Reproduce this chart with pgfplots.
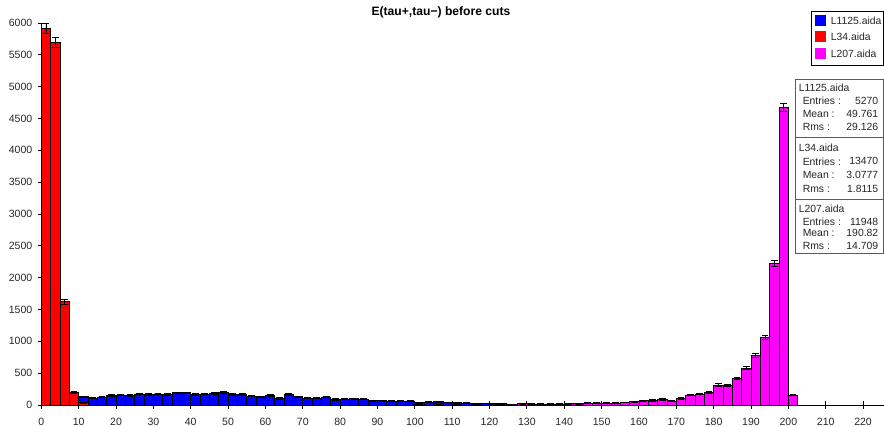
\documentclass[border=0pt]{standalone}
\usepackage{pgfplots}
\pgfplotsset{compat=1.18}
\usepackage{pgfplotstable}
\usepackage{fontspec}
\setmainfont{Liberation Sans}
\setsansfont{Liberation Sans}

\definecolor{hblue}{RGB}{0,0,255}
\definecolor{hred}{RGB}{255,0,0}
\definecolor{hmag}{RGB}{255,0,255}
\definecolor{boxgray}{RGB}{90,90,90}

% L1125.aida (bin centres, bin width 2.5)
\pgfplotstableread{
x y
11.25 131
13.75 110
16.25 126
18.75 150
21.25 158
23.75 148
26.25 173
28.75 165
31.25 175
33.75 168
36.25 192
38.75 192
41.25 168
43.75 173
46.25 183
48.75 199
51.25 167
53.75 162
56.25 141
58.75 131
61.25 147
63.75 105
66.25 162
68.75 131
71.25 110
73.75 110
76.25 126
78.75 89
81.25 96
83.75 99
86.25 94
88.75 70
91.25 68
93.75 63
96.25 58
98.75 63
101.25 37
103.75 47
106.25 52
108.75 42
111.25 37
113.75 31
116.25 26
118.75 26
121.25 21
123.75 18
126.25 10
128.75 20
131.25 16
133.75 15
136.25 13
138.75 12
141.25 10
143.75 9
146.25 8
148.75 6
151.25 5
153.75 4
156.25 3
158.75 3
161.25 2
163.75 1
}\bluedata

% L34.aida
\pgfplotstableread{
x y
1.25 5916
3.75 5696
6.25 1624
8.75 204
11.25 37
}\reddata

% L207.aida
\pgfplotstableread{
x y
101.25 2
106.25 3
111.25 4
116.25 5
121.25 6
123.75 7
126.25 8
128.75 20
131.25 15
133.75 18
136.25 16
138.75 18
141.25 20
143.75 22
146.25 30
148.75 30
151.25 31
153.75 33
156.25 42
158.75 52
161.25 68
163.75 73
166.25 89
168.75 63
171.25 105
173.75 157
176.25 173
178.75 199
181.25 314
183.75 304
186.25 419
188.75 576
191.25 775
193.75 1064
196.25 2222
198.75 4675
201.25 157
}\magdata

\begin{document}
\begin{tikzpicture}
\begin{axis}[
  scale only axis, width=632pt, height=286.5pt,
  xmin=0, xmax=225.6, ymin=0, ymax=6000,
  axis lines=left,
  axis line style={-, black, line width=0.7pt},
  xtick={0,10,...,220}, ytick={0,500,...,6000},
  minor tick num=0,
  tick align=center, major tick length=5.5pt,
  tick style={black, line width=0.7pt},
  ticklabel style={font=\fontsize{7.9}{9}\selectfont, text=black!85},
  xticklabel style={yshift=-3.5pt},
  yticklabel style={xshift=-0.5pt},
  /pgf/number format/assume math mode=true,
  /pgf/number format/1000 sep={},
  scaled y ticks=false,
  clip=false,
  every axis title shift=0pt,
  title={\textbf{E(tau+,tau−) before cuts}},
  title style={font=\fontsize{9.1}{10}\selectfont, at={(axis description cs:0.4743,1.0288)}, anchor=center, inner sep=0pt},
  every axis plot/.append style={ybar, bar width=2.5, bar shift=0pt, draw=black, line width=0.5pt,
    error bars/y dir=both, error bars/y explicit,
    error bars/error bar style={black, line width=0.6pt},
    error bars/error mark options={rotate=90, mark size=2.6pt, black, line width=0.6pt}},
]
\addplot[fill=hblue] table[x=x, y=y, y error expr={sqrt(\thisrow{y})}] {\bluedata};
\addplot[fill=hred] table[x=x, y=y, y error expr={sqrt(\thisrow{y})}] {\reddata};
\addplot[fill=hmag] table[x=x, y=y, y error expr={sqrt(\thisrow{y})}] {\magdata};
\end{axis}

% legend and statistics boxes, in reference pixel coordinates
\begin{scope}[shift={(-30.975pt,303.75pt)}, x=0.75pt, y=-0.75pt,
  every node/.style={font=\fontsize{7.8}{9}\selectfont, inner sep=0pt, text=black!85}]
  \draw[black, line width=0.6pt, fill=white] (811,11) rectangle (883.6,65.5);
  \fill[hblue] (815,15) rectangle (826,26);
  \fill[hred] (815,31) rectangle (826,42);
  \fill[hmag] (815,48) rectangle (826,59);
  \node[anchor=west] at (830.5,20.7) {L1125.aida};
  \node[anchor=west] at (830.5,36.7) {L34.aida};
  \node[anchor=west] at (830.5,53.3) {L207.aida};

  \draw[boxgray, line width=0.6pt, fill=white] (795.7,79.3) rectangle (883.6,253.3);
  \draw[boxgray, line width=0.6pt] (795.7,137.7) -- (883.6,137.7);
  \draw[boxgray, line width=0.6pt] (795.7,199) -- (883.6,199);

  \node[anchor=west] at (798.5,87.3) {L1125.aida};
  \node[anchor=west] at (802.5,100.5) {Entries :};
  \node[anchor=east] at (878.5,100.5) {5270};
  \node[anchor=west] at (802.5,114) {Mean :};
  \node[anchor=east] at (878.5,114) {49.761};
  \node[anchor=west] at (802.5,127.3) {Rms :};
  \node[anchor=east] at (878.5,127.3) {29.126};

  \node[anchor=west] at (798.5,147.3) {L34.aida};
  \node[anchor=west] at (802.5,161.3) {Entries :};
  \node[anchor=east] at (878.5,161.3) {13470};
  \node[anchor=west] at (802.5,174.7) {Mean :};
  \node[anchor=east] at (878.5,174.7) {3.0777};
  \node[anchor=west] at (802.5,188.7) {Rms :};
  \node[anchor=east] at (878.5,188.7) {1.8115};

  \node[anchor=west] at (798.5,209) {L207.aida};
  \node[anchor=west] at (802.5,221.7) {Entries :};
  \node[anchor=east] at (878.5,221.7) {11948};
  \node[anchor=west] at (802.5,233.3) {Mean :};
  \node[anchor=east] at (878.5,233.3) {190.82};
  \node[anchor=west] at (802.5,246) {Rms :};
  \node[anchor=east] at (878.5,246) {14.709};

  \pgfresetboundingbox
  \path[use as bounding box] (0,0) rectangle (884,426);
\end{scope}
\end{tikzpicture}
\end{document}
